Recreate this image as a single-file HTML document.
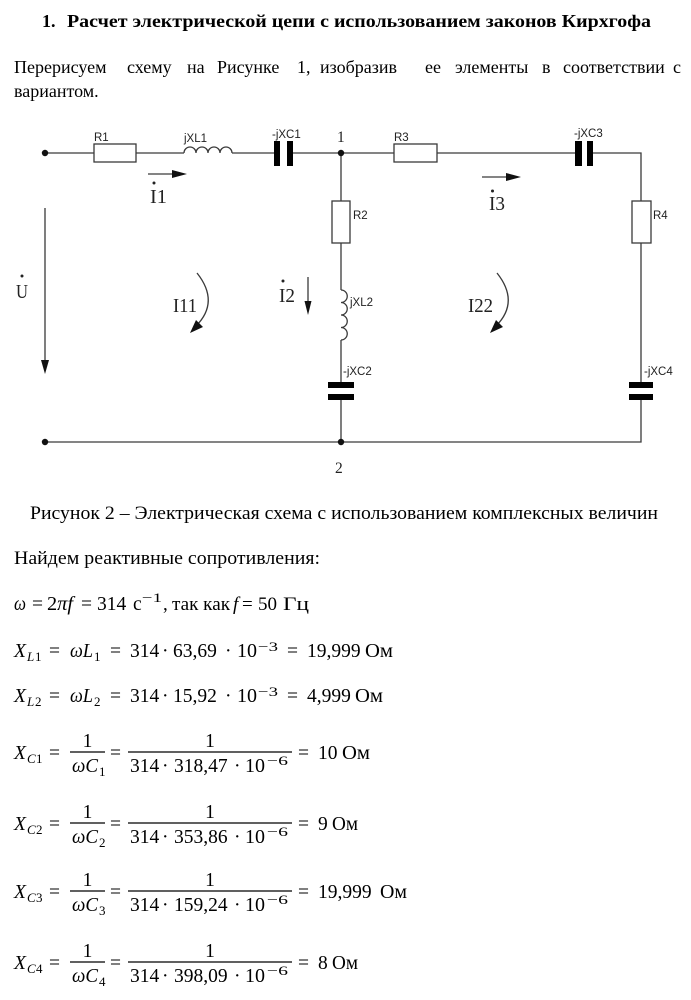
<!DOCTYPE html>
<html><head><meta charset="utf-8">
<style>
html,body{margin:0;padding:0;background:#fff;}
svg{display:block;}
.t{font-family:"Liberation Serif",serif;font-size:18px;fill:#000;}
.t19{font-family:"Liberation Serif",serif;font-size:19px;fill:#000;}
.b{font-weight:bold;}
.m{font-family:"Liberation Serif",serif;font-size:19.5px;fill:#000;}
.i{font-style:italic;}
.s{font-family:"Liberation Serif",serif;font-size:13px;fill:#000;}
.lab{font-family:"Liberation Sans",sans-serif;font-size:11.5px;fill:#222;}
.big{font-family:"Liberation Serif",serif;font-size:20px;fill:#222;}
.nd{font-family:"Liberation Serif",serif;font-size:15.5px;fill:#222;}
.w{stroke:#3a3a3a;stroke-width:1.3;fill:none;}
.r{stroke:#3a3a3a;stroke-width:1.3;fill:#fff;}
.bar{stroke:#000;stroke-width:1.2;}
</style></head>
<body>
<svg width="691" height="1000" viewBox="0 0 691 1000" xmlns="http://www.w3.org/2000/svg">
<rect width="691" height="1000" fill="#fff"/>

<!-- Title -->
<text class="t b" x="42" y="27">1.</text>
<text class="t b" x="67" y="27" textLength="584" lengthAdjust="spacingAndGlyphs">Расчет электрической цепи с использованием законов Кирхгофа</text>

<!-- Paragraph -->
<text class="t" y="73"><tspan x="14">Перерисуем</tspan><tspan x="127">схему</tspan><tspan x="187">на</tspan><tspan x="217">Рисунке</tspan><tspan x="297">1,</tspan><tspan x="320">изобразив</tspan><tspan x="425">ее</tspan><tspan x="455">элементы</tspan><tspan x="542">в</tspan><tspan x="563">соответствии</tspan><tspan x="673">с</tspan></text>
<text class="t" x="14" y="97">вариантом.</text>

<!-- ===== Circuit ===== -->
<path class="w" d="M45,153 H184 M232,153 H276 M291,153 H577 M591,153 H641 V442 H45"/>
<path class="w" d="M341,153 V290 M341,340 V442"/>
<rect class="r" x="94" y="144" width="42" height="18"/>
<path class="w" d="M184,153 a6,6 0 0 1 12,0 a6,6 0 0 1 12,0 a6,6 0 0 1 12,0 a6,6 0 0 1 12,0"/>
<rect x="274" y="141" width="6" height="25" fill="#000"/>
<rect x="287" y="141" width="6" height="25" fill="#000"/>
<rect class="r" x="394" y="144" width="43" height="18"/>
<rect x="575" y="141" width="7" height="25" fill="#000"/>
<rect x="587" y="141" width="6" height="25" fill="#000"/>
<rect class="r" x="332" y="201" width="18" height="42"/>
<path class="w" d="M341,290 a6.25,6.25 0 0 1 0,12.5 a6.25,6.25 0 0 1 0,12.5 a6.25,6.25 0 0 1 0,12.5 a6.25,6.25 0 0 1 0,12.5"/>
<rect x="328" y="388" width="26" height="6" fill="#fff"/>
<rect x="328" y="382" width="26" height="6" fill="#000"/>
<rect x="328" y="394" width="26" height="6" fill="#000"/>
<rect class="r" x="632" y="201" width="19" height="42"/>
<rect x="629" y="388" width="24" height="6" fill="#fff"/>
<rect x="629" y="382" width="24" height="6" fill="#000"/>
<rect x="629" y="394" width="24" height="6" fill="#000"/>

<circle cx="45" cy="153" r="3.2" fill="#111"/>
<circle cx="341" cy="153" r="3.2" fill="#111"/>
<circle cx="45" cy="442" r="3.2" fill="#111"/>
<circle cx="341" cy="442" r="3.2" fill="#111"/>

<line class="w" x1="45" y1="208" x2="45" y2="362"/>
<polygon points="41,360 49,360 45,374" fill="#111"/>
<line class="w" x1="148" y1="174" x2="174" y2="174"/>
<polygon points="172,170 172,178 187,174" fill="#111"/>
<line class="w" x1="482" y1="177" x2="508" y2="177"/>
<polygon points="506,173 506,181 521,177" fill="#111"/>
<line class="w" x1="308" y1="277" x2="308" y2="305"/>
<polygon points="304.5,301 311.5,301 308,315" fill="#111"/>

<path class="w" d="M197,273 Q220,302 196,326"/>
<polygon points="190,333 196,320 203,327" fill="#111"/>
<path class="w" d="M497,273 Q520,302 496,326"/>
<polygon points="490,333 496,320 503,327" fill="#111"/>

<text class="lab" x="94" y="141">R1</text>
<text class="lab" x="184" y="142">jXL1</text>
<text class="lab" x="272" y="138">-jXC1</text>
<text class="lab" x="394" y="141">R3</text>
<text class="lab" x="574" y="137">-jXC3</text>
<text class="lab" x="353" y="219">R2</text>
<text class="lab" x="653" y="219">R4</text>
<text class="lab" x="350" y="306">jXL2</text>
<text class="lab" x="343" y="375">-jXC2</text>
<text class="lab" x="644" y="375">-jXC4</text>

<text class="nd" x="337" y="142">1</text>
<text class="nd" x="335" y="473">2</text>

<text class="big" x="150" y="203" textLength="17" lengthAdjust="spacingAndGlyphs">I1</text>
<circle cx="154" cy="183" r="1.5" fill="#222"/>
<text class="big" x="489" y="210" textLength="16" lengthAdjust="spacingAndGlyphs">I3</text>
<circle cx="492.5" cy="191" r="1.5" fill="#222"/>
<text class="big" x="279" y="302" textLength="16" lengthAdjust="spacingAndGlyphs">I2</text>
<circle cx="283" cy="281" r="1.5" fill="#222"/>
<text class="big" x="16" y="298" textLength="12" lengthAdjust="spacingAndGlyphs">U</text>
<circle cx="22" cy="276" r="1.5" fill="#222"/>
<text class="big" x="173" y="312" textLength="24" lengthAdjust="spacingAndGlyphs">I11</text>
<text class="big" x="468" y="312" textLength="25" lengthAdjust="spacingAndGlyphs">I22</text>

<!-- Caption -->
<text class="t19" x="30" y="519" textLength="628" lengthAdjust="spacingAndGlyphs">Рисунок 2 – Электрическая схема с использованием комплексных величин</text>
<text class="t19" x="14" y="564" textLength="306" lengthAdjust="spacingAndGlyphs">Найдем реактивные сопротивления:</text>

<!-- omega line -->
<text class="m i" x="14" y="610" textLength="12" lengthAdjust="spacingAndGlyphs">ω</text>
<text class="m" x="32" y="610" textLength="11" lengthAdjust="spacingAndGlyphs">=</text>
<text class="m" x="47" y="610" textLength="26" lengthAdjust="spacingAndGlyphs">2<tspan class="i">πf</tspan></text>
<text class="m" x="81" y="610" textLength="11" lengthAdjust="spacingAndGlyphs">=</text>
<text class="m" x="97" y="610">314</text>
<text class="m" x="133" y="610">с</text>
<text class="s" x="142" y="602" textLength="20" lengthAdjust="spacingAndGlyphs">−1</text>
<text class="t19" x="163" y="610">,</text>
<text class="t19" x="172" y="610" textLength="58" lengthAdjust="spacingAndGlyphs">так как</text>
<text class="t19 i" x="233" y="610">f</text>
<text class="t19" x="242" y="610">=</text>
<text class="t19" x="258" y="610">50</text>
<text class="t19" x="283" y="610" textLength="26" lengthAdjust="spacingAndGlyphs">Гц</text>

<!-- X_L1 -->
<text class="m i" x="14" y="657">X</text>
<text class="s i" x="27" y="661">L</text><text class="s" x="35" y="661">1</text>
<text class="m" x="49" y="657" textLength="11" lengthAdjust="spacingAndGlyphs">=</text>
<text class="m i" x="70" y="657" textLength="23" lengthAdjust="spacingAndGlyphs">ωL</text>
<text class="s" x="94" y="661">1</text>
<text class="m" x="110" y="657" textLength="11" lengthAdjust="spacingAndGlyphs">=</text>
<text class="m" x="130" y="657">314</text>
<text class="m" x="162" y="657">·</text>
<text class="m" x="173" y="657">63,69</text>
<text class="m" x="225" y="657">·</text>
<text class="m" x="237" y="657" textLength="20" lengthAdjust="spacingAndGlyphs">10</text>
<text class="s" x="258" y="651" textLength="20" lengthAdjust="spacingAndGlyphs">−3</text>
<text class="m" x="287" y="657" textLength="11" lengthAdjust="spacingAndGlyphs">=</text>
<text class="m" x="307" y="657">19,999</text>
<text class="m" x="365" y="657" textLength="28" lengthAdjust="spacingAndGlyphs">Ом</text>

<!-- X_L2 -->
<text class="m i" x="14" y="702">X</text>
<text class="s i" x="27" y="706">L</text><text class="s" x="35" y="706">2</text>
<text class="m" x="49" y="702" textLength="11" lengthAdjust="spacingAndGlyphs">=</text>
<text class="m i" x="70" y="702" textLength="23" lengthAdjust="spacingAndGlyphs">ωL</text>
<text class="s" x="94" y="706">2</text>
<text class="m" x="110" y="702" textLength="11" lengthAdjust="spacingAndGlyphs">=</text>
<text class="m" x="130" y="702">314</text>
<text class="m" x="162" y="702">·</text>
<text class="m" x="173" y="702">15,92</text>
<text class="m" x="225" y="702">·</text>
<text class="m" x="237" y="702" textLength="20" lengthAdjust="spacingAndGlyphs">10</text>
<text class="s" x="258" y="696" textLength="20" lengthAdjust="spacingAndGlyphs">−3</text>
<text class="m" x="287" y="702" textLength="11" lengthAdjust="spacingAndGlyphs">=</text>
<text class="m" x="307" y="702">4,999</text>
<text class="m" x="355" y="702" textLength="28" lengthAdjust="spacingAndGlyphs">Ом</text>

<!-- X_C1 (bar 752) -->
<g transform="translate(0,752)">
<text class="m i" x="14" y="7">X</text>
<text class="s i" x="27" y="11">C</text><text class="s" x="36" y="11">1</text>
<text class="m" x="49" y="7" textLength="11" lengthAdjust="spacingAndGlyphs">=</text>
<line class="bar" x1="70" y1="0" x2="105" y2="0"/>
<text class="m" x="87.5" y="-5" text-anchor="middle">1</text>
<text class="m i" x="72" y="20" textLength="26" lengthAdjust="spacingAndGlyphs">ωC</text>
<text class="s" x="99" y="24">1</text>
<text class="m" x="110" y="7" textLength="11" lengthAdjust="spacingAndGlyphs">=</text>
<line class="bar" x1="128" y1="0" x2="292" y2="0"/>
<text class="m" x="210" y="-5" text-anchor="middle">1</text>
<text class="m" x="130" y="20">314</text>
<text class="m" x="162" y="20">·</text>
<text class="m" x="174" y="20">318,47</text>
<text class="m" x="234" y="20">·</text>
<text class="m" x="245" y="20" textLength="20" lengthAdjust="spacingAndGlyphs">10</text>
<text class="s" x="267" y="13" textLength="21" lengthAdjust="spacingAndGlyphs">−6</text>
<text class="m" x="298" y="7" textLength="11" lengthAdjust="spacingAndGlyphs">=</text>
<text class="m" x="318" y="7">10</text>
<text class="m" x="342" y="7" textLength="28" lengthAdjust="spacingAndGlyphs">Ом</text>
</g>

<!-- X_C2 (bar 823) -->
<g transform="translate(0,823)">
<text class="m i" x="14" y="7">X</text>
<text class="s i" x="27" y="11">C</text><text class="s" x="36" y="11">2</text>
<text class="m" x="49" y="7" textLength="11" lengthAdjust="spacingAndGlyphs">=</text>
<line class="bar" x1="70" y1="0" x2="105" y2="0"/>
<text class="m" x="87.5" y="-5" text-anchor="middle">1</text>
<text class="m i" x="72" y="20" textLength="26" lengthAdjust="spacingAndGlyphs">ωC</text>
<text class="s" x="99" y="24">2</text>
<text class="m" x="110" y="7" textLength="11" lengthAdjust="spacingAndGlyphs">=</text>
<line class="bar" x1="128" y1="0" x2="292" y2="0"/>
<text class="m" x="210" y="-5" text-anchor="middle">1</text>
<text class="m" x="130" y="20">314</text>
<text class="m" x="162" y="20">·</text>
<text class="m" x="174" y="20">353,86</text>
<text class="m" x="234" y="20">·</text>
<text class="m" x="245" y="20" textLength="20" lengthAdjust="spacingAndGlyphs">10</text>
<text class="s" x="267" y="13" textLength="21" lengthAdjust="spacingAndGlyphs">−6</text>
<text class="m" x="298" y="7" textLength="11" lengthAdjust="spacingAndGlyphs">=</text>
<text class="m" x="318" y="7">9</text>
<text class="m" x="332" y="7" textLength="26" lengthAdjust="spacingAndGlyphs">Ом</text>
</g>

<!-- X_C3 (bar 891) -->
<g transform="translate(0,891)">
<text class="m i" x="14" y="7">X</text>
<text class="s i" x="27" y="11">C</text><text class="s" x="36" y="11">3</text>
<text class="m" x="49" y="7" textLength="11" lengthAdjust="spacingAndGlyphs">=</text>
<line class="bar" x1="70" y1="0" x2="105" y2="0"/>
<text class="m" x="87.5" y="-5" text-anchor="middle">1</text>
<text class="m i" x="72" y="20" textLength="26" lengthAdjust="spacingAndGlyphs">ωC</text>
<text class="s" x="99" y="24">3</text>
<text class="m" x="110" y="7" textLength="11" lengthAdjust="spacingAndGlyphs">=</text>
<line class="bar" x1="128" y1="0" x2="292" y2="0"/>
<text class="m" x="210" y="-5" text-anchor="middle">1</text>
<text class="m" x="130" y="20">314</text>
<text class="m" x="162" y="20">·</text>
<text class="m" x="174" y="20">159,24</text>
<text class="m" x="234" y="20">·</text>
<text class="m" x="245" y="20" textLength="20" lengthAdjust="spacingAndGlyphs">10</text>
<text class="s" x="267" y="13" textLength="21" lengthAdjust="spacingAndGlyphs">−6</text>
<text class="m" x="298" y="7" textLength="11" lengthAdjust="spacingAndGlyphs">=</text>
<text class="m" x="318" y="7">19,999</text>
<text class="m" x="380" y="7" textLength="27" lengthAdjust="spacingAndGlyphs">Ом</text>
</g>

<!-- X_C4 (bar 962) -->
<g transform="translate(0,962)">
<text class="m i" x="14" y="7">X</text>
<text class="s i" x="27" y="11">C</text><text class="s" x="36" y="11">4</text>
<text class="m" x="49" y="7" textLength="11" lengthAdjust="spacingAndGlyphs">=</text>
<line class="bar" x1="70" y1="0" x2="105" y2="0"/>
<text class="m" x="87.5" y="-5" text-anchor="middle">1</text>
<text class="m i" x="72" y="20" textLength="26" lengthAdjust="spacingAndGlyphs">ωC</text>
<text class="s" x="99" y="24">4</text>
<text class="m" x="110" y="7" textLength="11" lengthAdjust="spacingAndGlyphs">=</text>
<line class="bar" x1="128" y1="0" x2="292" y2="0"/>
<text class="m" x="210" y="-5" text-anchor="middle">1</text>
<text class="m" x="130" y="20">314</text>
<text class="m" x="162" y="20">·</text>
<text class="m" x="174" y="20">398,09</text>
<text class="m" x="234" y="20">·</text>
<text class="m" x="245" y="20" textLength="20" lengthAdjust="spacingAndGlyphs">10</text>
<text class="s" x="267" y="13" textLength="21" lengthAdjust="spacingAndGlyphs">−6</text>
<text class="m" x="298" y="7" textLength="11" lengthAdjust="spacingAndGlyphs">=</text>
<text class="m" x="318" y="7">8</text>
<text class="m" x="332" y="7" textLength="26" lengthAdjust="spacingAndGlyphs">Ом</text>
</g>

</svg>
</body></html>
